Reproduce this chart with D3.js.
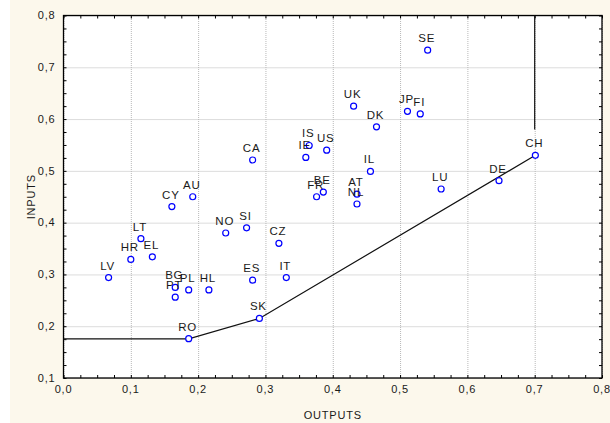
<!DOCTYPE html>
<html>
<head>
<meta charset="utf-8">
<script src="https://cdn.jsdelivr.net/npm/d3@7"></script>
<style>
  body { margin: 0; background: #fff; }
  svg text { font-family: "Liberation Sans", Arial, sans-serif; fill: #1a1a1a; }
  .grid line { stroke: #b8b8b8; stroke-dasharray: 1,1; }
  .grid path { display: none; }
  .minor path { display: none; }
  .minor line { stroke: #000; }
</style>
</head>
<body>
<svg id="chart" width="610" height="423"></svg>
<script>
// countries, outputs (x) and inputs (y)
var countries = ["SE","UK","JP","FI","DK","IS","US","CA","IE","CH","IL","DE","LU","AU","BE","FR","AT","NL",
  "CY","LT","HR","EL","NO","SI","CZ","LV","BG","PT","PL","HL","ES","IT","SK","RO"];
var outputs = [0.541,0.431,0.511,0.530,0.465,0.365,0.391,0.281,0.360,0.701,0.456,0.647,0.561,0.192,0.386,0.376,0.436,0.436,
  0.161,0.115,0.100,0.132,0.241,0.272,0.320,0.067,0.166,0.166,0.186,0.216,0.281,0.331,0.291,0.186];
var inputs = [0.733,0.625,0.615,0.610,0.585,0.549,0.540,0.521,0.526,0.530,0.499,0.481,0.465,0.450,0.459,0.450,0.455,0.436,
  0.431,0.369,0.329,0.334,0.380,0.390,0.360,0.294,0.275,0.256,0.270,0.270,0.289,0.294,0.215,0.176];

// efficiency frontier
var frontierOut = [0.0, 0.186, 0.291, 0.701];
var frontierIn = [0.1755, 0.1755, 0.215, 0.530];
var capOut = [0.700, 0.700];
var capIn = [0.800, 0.580];

var xTicks = [0,0.1,0.2,0.3,0.4,0.5,0.6,0.7,0.8];
var yTicks = [0.1,0.2,0.3,0.4,0.5,0.6,0.7,0.8];

var svg = d3.select("#chart");
svg.append("rect").attr("width", 610).attr("height", 423).attr("fill", "#fcf8ec");
svg.append("rect").attr("width", 10).attr("height", 423).attr("fill", "#fff");

var margin = {top: 15.5, left: 63.5},
    width = 538.5,
    height = 362.5;

var x = d3.scaleLinear().domain([0, 0.8]).range([0, width]);
var y = d3.scaleLinear().domain([0.1, 0.8]).range([height, 0]);

var g = svg.append("g").attr("transform", "translate(" + margin.left + "," + margin.top + ")");

g.append("rect").attr("width", width).attr("height", height).attr("fill", "#fff");

// grid
g.append("g").attr("class", "grid")
  .attr("transform", "translate(0," + height + ")")
  .call(d3.axisBottom(x).tickValues(xTicks).tickSize(-height).tickFormat(""));
g.append("g").attr("class", "grid")
  .call(d3.axisLeft(y).tickValues(yTicks).tickSize(-width).tickFormat(""));

// minor ticks (inside) on all four sides
var xMinor = d3.range(0, 0.8001, 0.025);
var yMinor = d3.range(0.1, 0.8001, 0.025);
g.append("g").attr("class", "minor").attr("transform", "translate(0," + height + ")")
  .call(d3.axisBottom(x).tickValues(xMinor).tickSize(-3).tickFormat(""));
g.append("g").attr("class", "minor")
  .call(d3.axisTop(x).tickValues(xMinor).tickSize(-3).tickFormat(""));
g.append("g").attr("class", "minor")
  .call(d3.axisLeft(y).tickValues(yMinor).tickSize(-3).tickFormat(""));
g.append("g").attr("class", "minor").attr("transform", "translate(" + width + ",0)")
  .call(d3.axisRight(y).tickValues(yMinor).tickSize(-3).tickFormat(""));

var fmt = function(d) { return d3.format(".1f")(d).replace(".", ","); };

// tick labels
g.append("g").selectAll("text")
  .data(xTicks)
  .enter().append("text")
  .attr("x", function(d) { return x(d); })
  .attr("y", height + 15)
  .attr("text-anchor", "middle")
  .style("font-size", "11px")
  .style("letter-spacing", "0.8px")
  .text(fmt);

g.append("g").selectAll("text")
  .data(yTicks)
  .enter().append("text")
  .attr("x", -8)
  .attr("y", function(d) { return y(d); })
  .attr("dy", "0.35em")
  .attr("text-anchor", "end")
  .style("font-size", "11px")
  .style("letter-spacing", "0.8px")
  .text(fmt);

// frame
g.append("rect").attr("width", width).attr("height", height)
  .attr("fill", "none").attr("stroke", "#000").attr("stroke-width", 1.3);

// frontier
var line = d3.line()
  .x(function(d) { return x(d[0]); })
  .y(function(d) { return y(d[1]); });

g.append("path")
  .attr("d", line(d3.zip(frontierOut, frontierIn)))
  .attr("fill", "none").attr("stroke", "#111").attr("stroke-width", 1.2);
g.append("path")
  .attr("d", line(d3.zip(capOut, capIn)))
  .attr("fill", "none").attr("stroke", "#111").attr("stroke-width", 1.2);

// points
var pts = countries.map(function(c, i) { return {c: c, o: outputs[i], v: inputs[i]}; });

g.selectAll(".pt")
  .data(pts)
  .enter().append("circle")
  .attr("class", "pt")
  .attr("cx", function(d) { return x(d.o); })
  .attr("cy", function(d) { return y(d.v); })
  .attr("r", 3)
  .attr("fill", "#fff")
  .attr("stroke", "#0000ff")
  .attr("stroke-width", 1.2);

g.selectAll(".lbl")
  .data(pts)
  .enter().append("text")
  .attr("class", "lbl")
  .attr("x", function(d) { return x(d.o) - 1; })
  .attr("y", function(d) { return y(d.v) - 8; })
  .attr("text-anchor", "middle")
  .style("font-size", "11.5px")
  .style("letter-spacing", "0.8px")
  .text(function(d) { return d.c; });

// axis titles
svg.append("text")
  .attr("x", margin.left + width / 2)
  .attr("y", 419)
  .attr("text-anchor", "middle")
  .style("font-size", "11px")
  .style("letter-spacing", "0.8px")
  .text("OUTPUTS");

svg.append("text")
  .attr("transform", "translate(35," + (margin.top + height / 2) + ") rotate(-90)")
  .attr("text-anchor", "middle")
  .style("font-size", "11px")
  .style("letter-spacing", "0.8px")
  .text("INPUTS");
</script>
</body>
</html>
